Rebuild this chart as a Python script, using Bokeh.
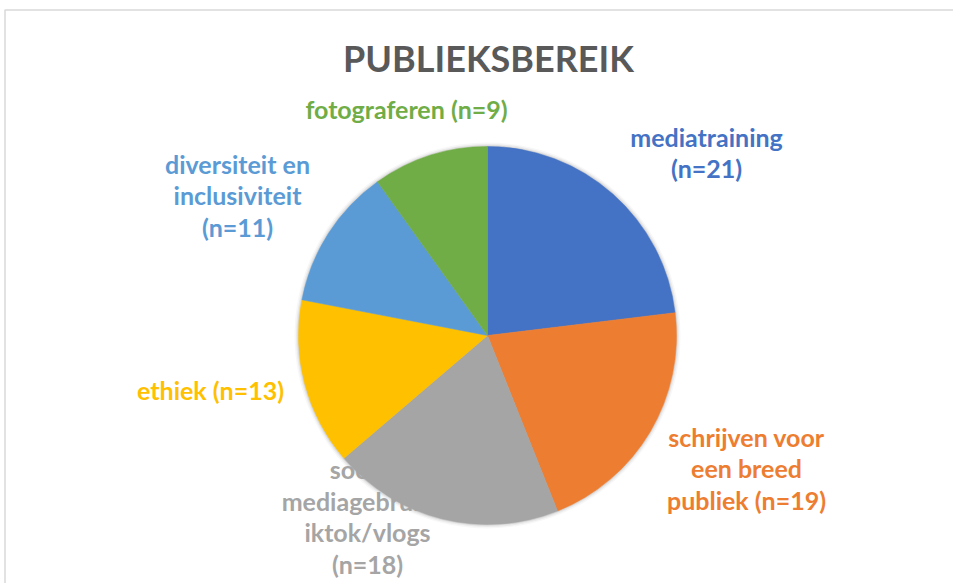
import numpy as np
from bokeh.plotting import figure
from bokeh.models import ColumnDataSource, Range1d
from bokeh.core.properties import value
from bokeh.embed import file_html
from bokeh.resources import INLINE

# ---- data ----
categories = ["mediatraining", "schrijven voor een breed publiek",
              "sociaal mediagebruik/tiktok/vlogs", "ethiek",
              "diversiteit en inclusiviteit", "fotograferen"]
counts = [21, 19, 18, 13, 11, 9]
label_texts = ["mediatraining\n(n=21)",
               "schrijven voor\neen breed\npubliek (n=19)",
               "sociaal\nmediagebruik/t\niktok/vlogs\n(n=18)",
               "ethiek (n=13)",
               "diversiteit en\ninclusiviteit\n(n=11)",
               "fotograferen (n=9)"]
colors = ["#4472C4", "#ED7D31", "#A5A5A5", "#FFC000", "#5B9BD5", "#70AD47"]
title_text = "PUBLIEKSBEREIK"

# ---- layout (data space == screen pixels, y up) ----
W, H = 953, 583
cx, cy, R = 487, H - 335, 189
# label block centres in screen px (from top-left)
label_sx = [706, 746, 367, 210, 237, 406]
label_sy = [152, 468, 516, 389, 195, 108]

vals = np.array(counts, dtype=float)
frac = vals / vals.sum()
cum = np.concatenate([[0.0], np.cumsum(frac)])
start = np.pi / 2 - 2 * np.pi * cum[:-1]
end = np.pi / 2 - 2 * np.pi * cum[1:]

src = ColumnDataSource(dict(cat=categories, val=counts, start=start, end=end,
                            color=colors, x=[cx] * len(counts), y=[cy] * len(counts)))

p = figure(width=W, height=H, output_backend="svg", toolbar_location=None,
           x_range=Range1d(0, W), y_range=Range1d(0, H), min_border=0,
           background_fill_color="white", border_fill_color="white",
           outline_line_color=None)
p.axis.visible = False
p.grid.visible = False

# frame (top and left border visible in reference)
p.line(x=[4.5, 4.5, W + 5], y=[-5, H - 9.5, H - 9.5], line_color="#D9D9D9", line_width=1.5)

# soft shadow
for dr, a in [(4, 0.03), (2.5, 0.05), (1.2, 0.08)]:
    p.circle(x=cx, y=cy, radius=R + dr, fill_color="black", fill_alpha=a, line_color=None)

p.wedge(x="x", y="y", radius=R, start_angle="start", end_angle="end", direction="clock",
        fill_color="color", line_color="color", line_width=0.5, source=src)

lsrc = ColumnDataSource(dict(x=label_sx, y=[H - s for s in label_sy],
                             text=label_texts, color=colors))
FS = 25
p.text(x="x", y="y", text="text", text_color="color", source=lsrc,
       text_font=value("Lato"), text_font_style="bold", text_font_size=f"{FS}px",
       text_align="center", text_baseline="middle", text_line_height=1.06)

p.text(x=[488], y=[H - 57], text=[title_text], text_color="#595959",
       text_font=value("Lato"), text_font_style="bold", text_font_size="36px",
       text_align="center", text_baseline="middle")

open("out.html", "w").write(file_html(p, INLINE))
